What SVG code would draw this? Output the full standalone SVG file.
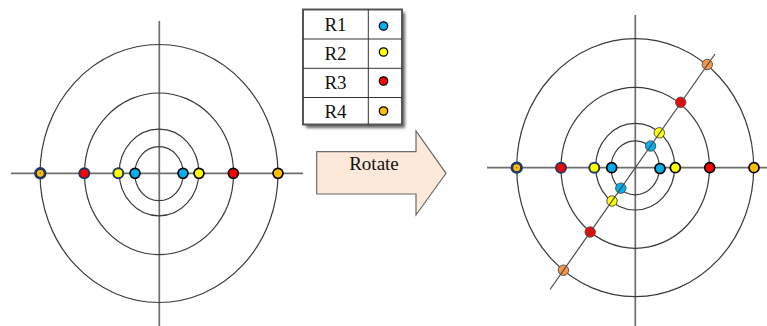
<svg xmlns="http://www.w3.org/2000/svg" width="767" height="326" viewBox="0 0 767 326">
<style>
.axis{stroke:#6e6e6e;stroke-width:1.7;fill:none}
.ring{stroke:#3a3a3a;stroke-width:1.2;fill:none}
.dn{stroke:#1f3864;stroke-width:2}
.dk{stroke:#000;stroke-width:1.7}
.dg{stroke:#555;stroke-width:1}
.blue{fill:#00b0f0}.yel{fill:#ffff00}.red{fill:#ff0000}.org{fill:#ffc000}.org2{fill:#f79646}
.lbl{font-family:"Liberation Serif","Times New Roman",serif;font-size:19px;fill:#111;text-anchor:middle}
.grid{stroke:#333;stroke-width:1;fill:none}
</style>
<defs>
<filter id="sh" x="-10%" y="-10%" width="130%" height="130%"><feGaussianBlur stdDeviation="1.5"/></filter>
</defs>

<g id="left-plot">
<line class="axis" x1="11" y1="173.3" x2="303" y2="173.3"/>
<line class="axis" x1="159.3" y1="21" x2="159.3" y2="326"/>
<ellipse class="ring" cx="159" cy="173.5" rx="119" ry="129"/>
<ellipse class="ring" cx="159" cy="173.8" rx="74.5" ry="80.8"/>
<ellipse class="ring" cx="159" cy="172.5" rx="39.8" ry="43.3"/>
<ellipse class="ring" cx="159" cy="173.7" rx="24.2" ry="27"/>
<circle class="org" cx="40.3" cy="173.3" r="4.8" stroke="#1f3864" stroke-width="2.8"/>
<circle cx="40.3" cy="173.3" r="0.8" fill="#7a5a00"/>
<circle class="red dn" cx="84.3" cy="173.3" r="5"/>
<circle class="yel dn" cx="118.3" cy="173.3" r="5" stroke-width="1.4"/>
<circle class="blue dk" cx="135" cy="173.3" r="5"/>
<circle class="blue dk" cx="183" cy="173.3" r="5"/>
<circle class="yel dk" cx="199" cy="173.3" r="5"/>
<circle class="red dk" cx="233.3" cy="173.3" r="5"/>
<circle class="org dk" cx="278" cy="173.3" r="5"/>
</g>

<g id="legend-table">
<rect x="306" y="12.5" width="99" height="115.5" fill="#666" filter="url(#sh)"/>
<rect x="303" y="9.5" width="99" height="115" fill="#fff" stroke="#555" stroke-width="2"/>
<line class="grid" x1="303" y1="39" x2="402" y2="39"/>
<line class="grid" x1="303" y1="68.3" x2="402" y2="68.3"/>
<line class="grid" x1="303" y1="97.5" x2="402" y2="97.5"/>
<line class="grid" x1="368.3" y1="9.5" x2="368.3" y2="124.5"/>
<text class="lbl" x="335.5" y="30.5">R1</text>
<text class="lbl" x="335.5" y="59.5">R2</text>
<text class="lbl" x="335.5" y="89">R3</text>
<text class="lbl" x="335.5" y="118">R4</text>
<circle class="blue" cx="383.5" cy="26" r="4.2" stroke="#000" stroke-width="1.3"/>
<circle class="yel" cx="383.5" cy="52" r="4.2" stroke="#000" stroke-width="1.3"/>
<circle class="red" cx="383.5" cy="81" r="4.2" stroke="#000" stroke-width="1.3"/>
<circle class="org" cx="383.5" cy="111" r="4.2" stroke="#000" stroke-width="1.3"/>
</g>

<g id="rotate-arrow">
<polygon points="316.7,151.7 416,151.7 416,131 446,173.3 416,215 416,194 316.7,194" fill="#fde9d9" stroke="#6b6b6b" stroke-width="1.2"/>
<text class="lbl" x="374" y="170" font-size="17.5">Rotate</text>
</g>

<g id="right-plot">
<line class="axis" x1="487" y1="167.7" x2="767" y2="167.7"/>
<line class="axis" x1="635.3" y1="15" x2="635.3" y2="326"/>
<ellipse class="ring" cx="635.2" cy="167.7" rx="118.5" ry="129"/>
<ellipse class="ring" cx="635.2" cy="167.8" rx="74.2" ry="80.5"/>
<ellipse class="ring" cx="635.2" cy="166.7" rx="39.5" ry="43.3"/>
<ellipse class="ring" cx="635.2" cy="167.8" rx="24.2" ry="27"/>
<circle class="org" cx="516.7" cy="167.7" r="4.8" stroke="#1f3864" stroke-width="2.8"/>
<circle cx="516.7" cy="167.7" r="0.8" fill="#7a5a00"/>
<circle class="red dn" cx="561" cy="167.7" r="5"/>
<circle class="yel dn" cx="594.3" cy="167.7" r="5" stroke-width="1.4"/>
<circle class="blue dk" cx="611.7" cy="167.7" r="5"/>
<circle class="blue dk" cx="660" cy="168.5" r="5"/>
<circle class="yel dk" cx="675.3" cy="167.7" r="5"/>
<circle class="red dk" cx="709.7" cy="167.7" r="5"/>
<circle class="org dk" cx="754" cy="167.7" r="5"/>
<circle class="org2 dg" cx="707.3" cy="64.5" r="5.2"/>
<circle class="red dg" cx="680.7" cy="102.3" r="5.2"/>
<circle class="yel dg" cx="659.3" cy="132.8" r="5.2"/>
<circle class="blue dg" cx="650.6" cy="146" r="5.2"/>
<circle class="blue dg" cx="620.8" cy="188.2" r="5.2"/>
<circle class="yel dg" cx="612" cy="201" r="5.2"/>
<circle class="red dg" cx="590.2" cy="232" r="5.2"/>
<circle class="org2 dg" cx="563.4" cy="270.2" r="5.2"/>
<line x1="550" y1="289.5" x2="715" y2="54" stroke="#4a4a4a" stroke-width="1.2"/>
</g>
</svg>
